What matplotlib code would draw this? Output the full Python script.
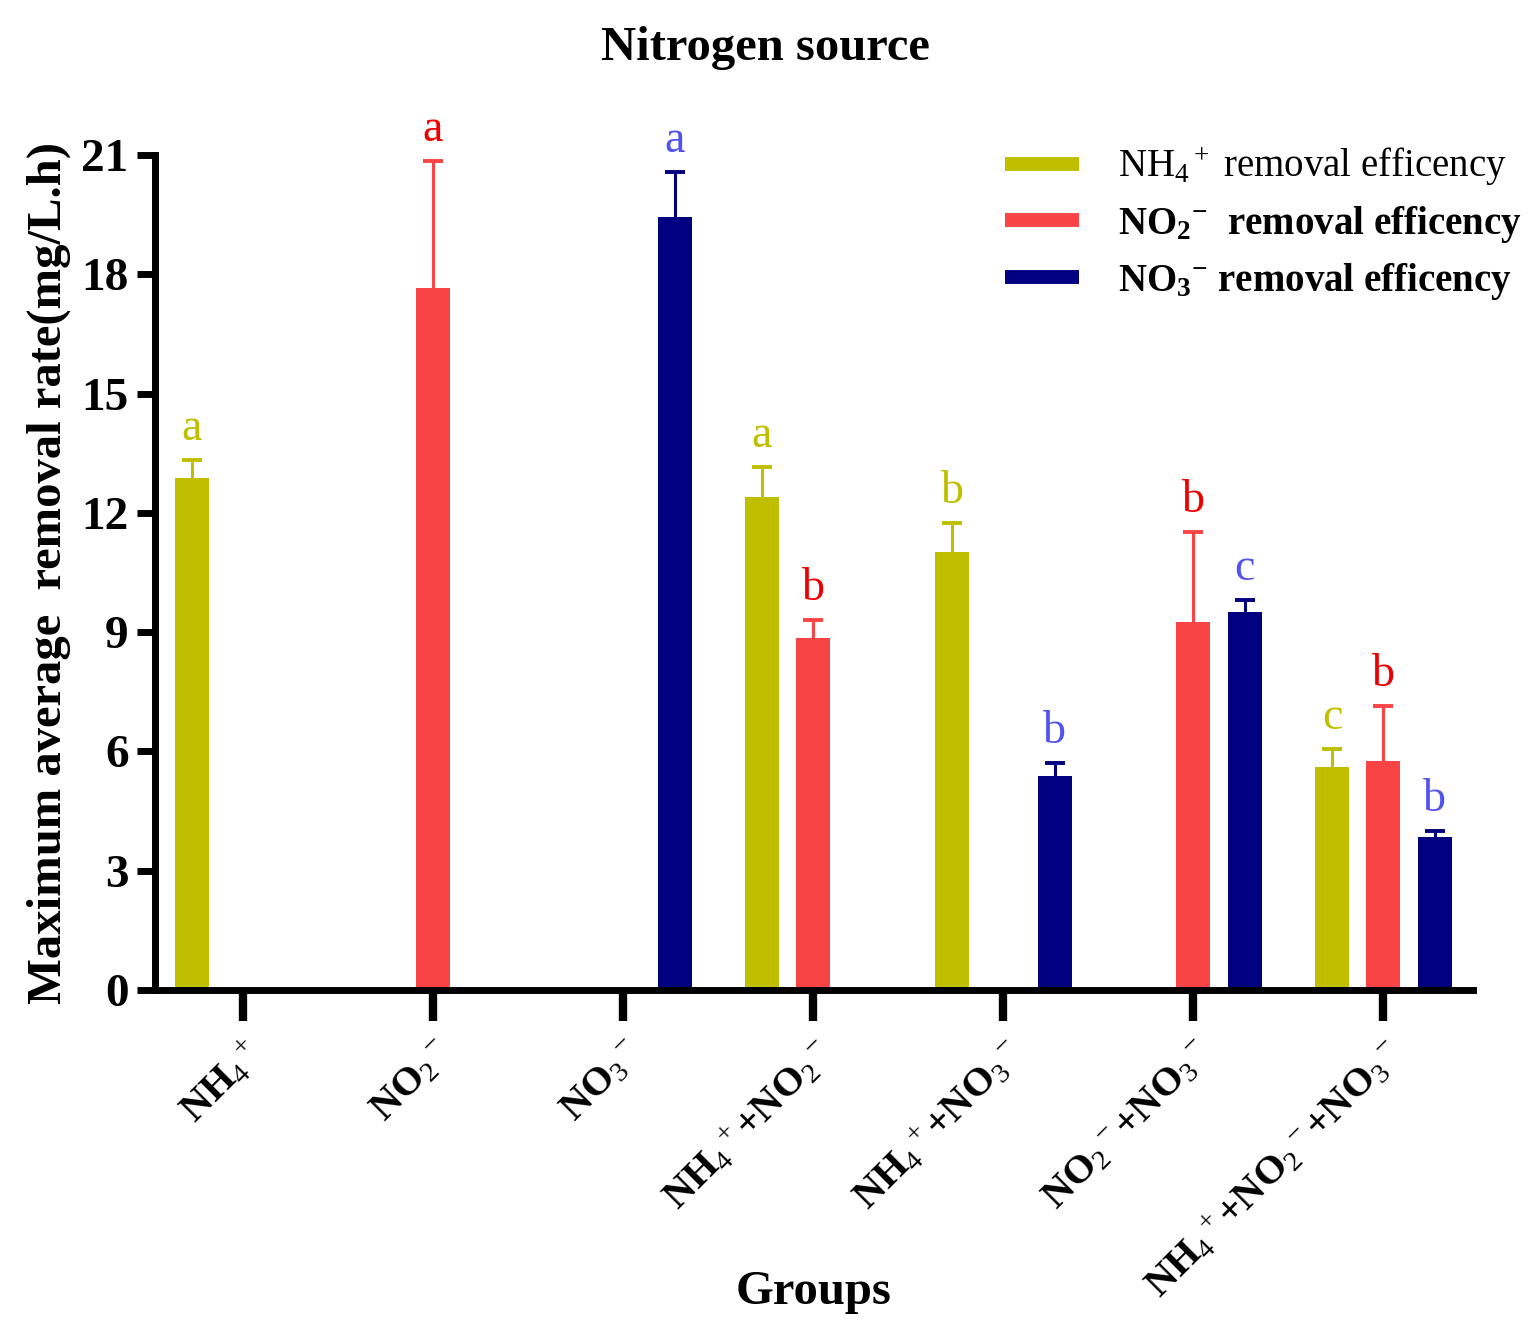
import numpy as np
import matplotlib
matplotlib.use("Agg")
import matplotlib.pyplot as plt
from matplotlib.lines import Line2D

plt.rcParams['font.family'] = ['Liberation Serif', 'DejaVu Serif']
plt.rcParams['mathtext.fontset'] = 'custom'
plt.rcParams['mathtext.rm'] = 'Liberation Serif'
plt.rcParams['mathtext.it'] = 'Liberation Serif:italic'
plt.rcParams['mathtext.bf'] = 'Liberation Serif:bold'

# ---------------- data ----------------
groups = [
    r"NH$_4$$^+$",
    r"NO$_2$$^-$",
    r"NO$_3$$^-$",
    r"NH$_4$$^+$+NO$_2$$^-$",
    r"NH$_4$$^+$+NO$_3$$^-$",
    r"NO$_2$$^-$+NO$_3$$^-$",
    r"NH$_4$$^+$+NO$_2$$^-$+NO$_3$$^-$",
]
series_names = [
    r"NH$_4$$^+$ removal efficency",
    r"NO$_\mathbf{2}$$^\mathbf{-}$  removal efficency",
    r"NO$_\mathbf{3}$$^\mathbf{-}$ removal efficency",
]
nh4_vals = [12.88, None, None, 12.40, 11.02, None, 5.61]
nh4_err = [0.45, None, None, 0.75, 0.73, None, 0.45]
nh4_letters = ['a', None, None, 'a', 'b', None, 'c']

no2_vals = [None, 17.66, None, 8.85, None, 9.26, 5.76]
no2_err = [None, 3.19, None, 0.46, None, 2.26, 1.38]
no2_letters = [None, 'a', None, 'b', None, 'b', 'b']

no3_vals = [None, None, 19.44, None, 5.38, 9.51, 3.85]
no3_err = [None, None, 1.13, None, 0.33, 0.30, 0.15]
no3_letters = [None, None, 'a', None, 'b', 'c', 'b']

yticks = [0, 3, 6, 9, 12, 15, 18, 21]

# ---------------- style ----------------
bar_colors = ['#BFBF00', '#F84444', '#000080']
letter_colors = ['#BFBF00', '#EE0000', '#5252F0']
offsets = [-0.268, 0.0, 0.272]
bar_w = 0.18

fig = plt.figure(figsize=(15.3, 13.39), dpi=100)
ax = fig.add_axes([155/1530, 349/1339, 1318/1530, 835/1339])

x = np.arange(len(groups))
all_vals = [nh4_vals, no2_vals, no3_vals]
all_err = [nh4_err, no2_err, no3_err]
all_letters = [nh4_letters, no2_letters, no3_letters]

for s in range(3):
    idx = [i for i, v in enumerate(all_vals[s]) if v is not None]
    xs = x[idx] + offsets[s]
    hs = [all_vals[s][i] for i in idx]
    es = [all_err[s][i] for i in idx]
    ax.bar(xs, hs, width=bar_w, color=bar_colors[s], zorder=2)
    eb = ax.errorbar(xs, hs, yerr=[np.zeros(len(es)), es], fmt='none',
                     ecolor=bar_colors[s], elinewidth=2.2, capsize=7, capthick=2.8, zorder=3)
    caplines = eb[1]
    if len(caplines) == 2:
        caplines[0].set_visible(False)
    for xi, h, e, i in zip(xs, hs, es, idx):
        lt = all_letters[s][i]
        if lt:
            ax.text(xi, h + e + 0.5, lt, ha='center', va='baseline',
                    fontsize=33, color=letter_colors[s])

ax.set_xlim(-0.463, 6.474)
ax.set_ylim(0, 21)
ax.set_yticks(yticks)
ax.set_yticklabels([str(t) for t in yticks], fontsize=34, fontweight='bold')
ax.set_xticks(x)
ax.set_xticklabels(groups, fontsize=29, fontweight='bold', rotation=45,
                   ha='right', rotation_mode='anchor')

for sp in ['top', 'right']:
    ax.spines[sp].set_visible(False)
for sp in ['left', 'bottom']:
    ax.spines[sp].set_linewidth(5)
ax.tick_params(axis='y', direction='out', length=13, width=5, pad=6)
ax.tick_params(axis='x', direction='out', length=22, width=6, pad=10)

ax.set_ylabel("Maximum average  removal rate(mg/L.h)", fontsize=35, fontweight='bold')
ax.yaxis.set_label_coords(-0.064, 0.5)
ax.set_xlabel("Groups", fontsize=35, fontweight='bold')
ax.xaxis.set_label_coords(0.5, -0.335)

fig.text(0.5, 1 - 48/1339, "Nitrogen source", ha='center', va='center',
         fontsize=35, fontweight='bold')

handles = [Line2D([0], [0], color=c, lw=10, solid_capstyle='butt') for c in bar_colors]
leg = ax.legend(handles, series_names, loc='upper left',
                bbox_to_anchor=(1005/1530, 1 - 146/1339), bbox_transform=fig.transFigure,
                frameon=False, fontsize=28, handlelength=1.9, handletextpad=1.0,
                labelspacing=0.4, borderpad=0, borderaxespad=0)
for i, t in enumerate(leg.get_texts()):
    if i > 0:
        t.set_fontweight('bold')

fig.savefig("out.png", dpi=100)
